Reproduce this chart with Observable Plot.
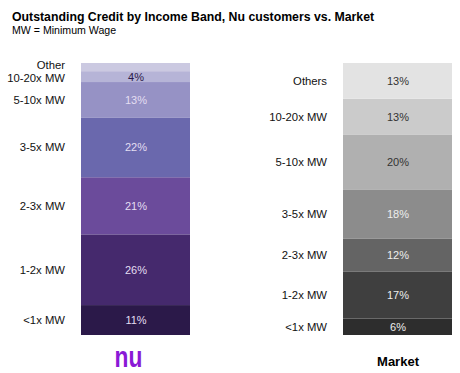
<!DOCTYPE html>
<html>
<head>
<meta charset="utf-8">
<script src="https://cdn.jsdelivr.net/npm/d3@7"></script>
<script src="https://cdn.jsdelivr.net/npm/@observablehq/plot@0.6"></script>
<style>
  body { margin: 0; background: #fff; font-family: "Liberation Sans", Arial, sans-serif; }
  #head { position: relative; height: 40px; }
  #title { position: absolute; left: 12px; top: 10px; font-weight: bold; font-size: 12.3px; line-height: 14px; color: #000; white-space: nowrap; }
  #subtitle { position: absolute; left: 12px; top: 23.5px; font-size: 10.6px; line-height: 12px; color: #000; white-space: nowrap; }
</style>
</head>
<body>
<div id="head">
  <div id="title">Outstanding Credit by Income Band, Nu customers vs. Market</div>
  <div id="subtitle">MW = Minimum Wage</div>
</div>
<div id="chart"></div>
<script>
const barNames = ["Nu", "Market"];
const bandKeys = ["<1x", "1-2x", "2-3x", "3-5x", "5-10x", "10-20x", "other"];
const nuBandLabels = ["<1x MW", "1-2x MW", "2-3x MW", "3-5x MW", "5-10x MW", "10-20x MW", "Other"];
const marketBandLabels = ["<1x MW", "1-2x MW", "2-3x MW", "3-5x MW", "5-10x MW", "10-20x MW", "Others"];
const nuShare = [11, 26, 21, 22, 13, 4, 3];
const marketShare = [6, 17, 12, 18, 20, 13, 13];
const nuValueLabels = ["11%", "26%", "21%", "22%", "13%", "4%", ""];
const marketValueLabels = ["6%", "17%", "12%", "18%", "20%", "13%", "13%"];
const bottomLabels = ["nu", "Market"];

// styles
const nuPalette = ["#2b1949", "#45296d", "#6b4b9b", "#6a68ad", "#9692c5", "#b6b4d7", "#cbc9e1"];
const marketPalette = ["#2d2d2d", "#3f3f3f", "#646464", "#8c8c8c", "#b0b0b0", "#cbcbcb", "#e3e3e3"];
const nuInk = ["#e4def2", "#e4def2", "#e4def2", "#e4def2", "#e4def2", "#2b1949", "#2b1949"];
const marketInk = ["#eeeeee", "#eeeeee", "#eeeeee", "#eeeeee", "#333333", "#333333", "#333333"];

const rows = [];
bandKeys.forEach((k, i) => {
  rows.push({bar: "Nu", band: k, value: nuShare[i], label: nuBandLabels[i], pct: nuValueLabels[i], fill: nuPalette[i], ink: nuInk[i]});
});
bandKeys.forEach((k, i) => {
  rows.push({bar: "Market", band: k, value: marketShare[i], label: marketBandLabels[i], pct: marketValueLabels[i], fill: marketPalette[i], ink: marketInk[i]});
});

const stackOpts = {x: "bar", y: "value", z: "band", offset: "normalize", order: null};
const isNuTop = d => d.bar === "Nu" && d.band === "other";
const isNuNext = d => d.bar === "Nu" && d.band === "10-20x";
const labelStyle = {fill: "#111", fontSize: 11.3, textAnchor: "end", dx: -71, lineAnchor: "middle"};

const chart = Plot.plot({
  width: 460,
  height: 333,
  marginTop: 23,
  marginBottom: 38,
  marginLeft: 81,
  marginRight: 8,
  style: {fontFamily: "'Liberation Sans', Arial, sans-serif", background: "#fff"},
  x: {type: "band", domain: barNames, range: [81, 452], paddingInner: 0.584, paddingOuter: 0, round: false, axis: null},
  y: {domain: [0, 1], axis: null},
  color: {type: "identity"},
  marks: [
    Plot.barY(rows, Plot.stackY({...stackOpts, fill: "fill"})),
    Plot.text(rows, Plot.stackY({...stackOpts, text: "pct", fill: "ink", fontSize: 11, lineAnchor: "middle"})),
    Plot.text(rows, Plot.stackY({...stackOpts, text: d => (isNuTop(d) || isNuNext(d)) ? "" : d.label, ...labelStyle})),
    Plot.text(rows, Plot.stackY({...stackOpts, text: d => isNuTop(d) ? d.label : "", ...labelStyle, dy: -2})),
    Plot.text(rows, Plot.stackY({...stackOpts, text: d => isNuNext(d) ? d.label : "", ...labelStyle, dy: 1.5})),
    Plot.text([{bar: "Nu", t: bottomLabels[0]}], {x: "bar", text: "t", frameAnchor: "bottom", lineAnchor: "bottom", dy: 31, dx: -7.5, fill: "#8a19d6", fontSize: 30, fontWeight: 900, letterSpacing: "-1px"}),
    Plot.text([{bar: "Market", t: bottomLabels[1]}], {x: "bar", text: "t", frameAnchor: "bottom", lineAnchor: "bottom", dy: 30, fill: "#000", fontSize: 13, fontWeight: "bold"})
  ]
});
document.getElementById("chart").appendChild(chart);
d3.select(chart).selectAll("text")
  .filter(function() { return this.textContent === bottomLabels[0]; })
  .attr("transform", function() { return (this.getAttribute("transform") || "") + " scale(0.76,1)"; });
</script>
</body>
</html>
